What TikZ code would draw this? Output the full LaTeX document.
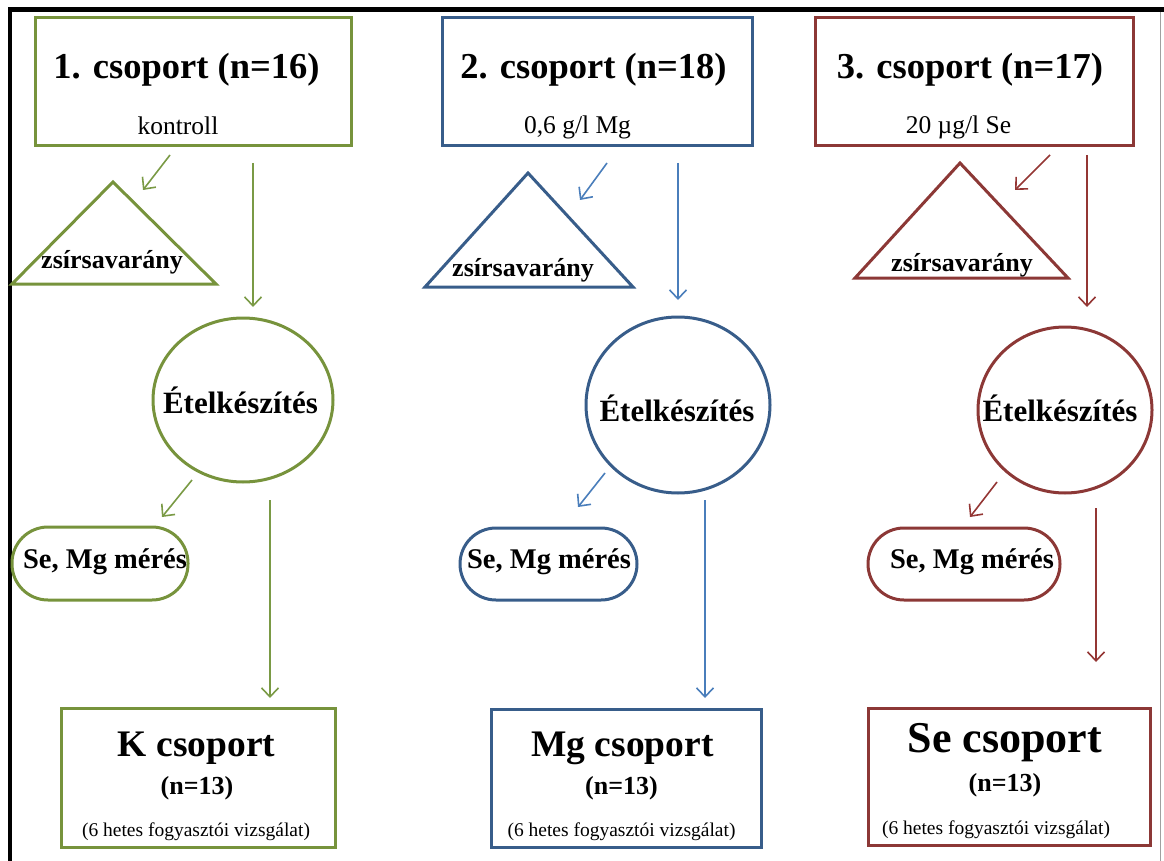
\documentclass[tikz,border=0pt]{standalone}
\usepackage{fontspec}
\setmainfont{Liberation Serif}
\usetikzlibrary{arrows.meta,shapes.geometric}
\definecolor{grnbox}{HTML}{77933C}
\definecolor{grnarr}{HTML}{7A9A45}
\definecolor{blubox}{HTML}{385D8A}
\definecolor{bluarr}{HTML}{4A7EBB}
\definecolor{redbox}{HTML}{8C3836}
\definecolor{redarr}{HTML}{943634}
\definecolor{framegray}{HTML}{A0A0A0}
\tikzset{
  px/.style={x=1pt,y=-1pt},
  boxshape/.style={draw,line width=3pt,rectangle,inner sep=0pt},
  roundshape/.style={draw,line width=3pt,ellipse,inner sep=0pt},
  pillshape/.style={draw,line width=3pt,rectangle,rounded corners=36pt,inner sep=0pt},
  trishape/.style={line width=3pt,line join=miter},
  arr/.style={line width=1.6pt,-{Straight Barb[length=9pt,width=17pt]}},
  lbl/.style={inner sep=0pt,text=black},
  ttl/.style={lbl,font=\fontsize{36.5}{40}\selectfont\bfseries},
  sub/.style={lbl,font=\fontsize{25.5}{28}\selectfont},
  tri/.style={lbl,font=\fontsize{26}{28}\selectfont\bfseries},
  etel/.style={lbl,font=\fontsize{31}{34}\selectfont\bfseries},
  meres/.style={lbl,font=\fontsize{28.5}{31}\selectfont\bfseries},
  big/.style={lbl,font=\fontsize{37.5}{40}\selectfont\bfseries},
  nn/.style={lbl,font=\fontsize{26}{28}\selectfont\bfseries},
  small/.style={lbl,font=\fontsize{19.5}{22}\selectfont},
}
\begin{document}
\begin{tikzpicture}[px]
\useasboundingbox (0,0) rectangle (1164,861);
% frame
\fill[black] (8,7) rectangle (1164,12.5);
\fill[black] (8,7) rectangle (12.3,861);
\draw[framegray,line width=1pt] (1160,12) -- (1160,861);

% ===== column 1 (green) =====
\node[boxshape,grnbox,minimum width=316pt,minimum height=128pt] (top1) at (193,82) {};
\node[ttl] (top1t) at (186.5,70) {1. csoport (n=16)};
\node[sub] (top1s) at (178,126) {kontroll};
\draw[trishape,grnbox] (113,182) -- (216,284) -- (12,284) -- cycle;
\node[tri] (tri1t) at (112,262) {zsírsavarány};
\node[roundshape,grnbox,minimum width=180pt,minimum height=164pt] (circ1) at (243,400) {};
\node[etel] (circ1t) at (240.5,400) {Ételkészítés};
\node[pillshape,grnbox,minimum width=176pt,minimum height=73pt] (pill1) at (100,563.5) {};
\node[meres] (pill1t) at (105,562) {Se, Mg mérés};
\node[boxshape,grnbox,minimum width=274pt,minimum height=139pt] (bot1) at (198,777.5) {};
\node[big] (bot1a) at (196.5,748) {K csoport};
\node[nn] (bot1b) at (197,788) {(n=13)};
\node[small] (bot1c) at (196,832) {(6 hetes fogyasztói vizsgálat)};
\coordinate (a1s) at (170,155); \coordinate (a1e) at (143,190);
\coordinate (b1s) at (253,163); \coordinate (b1e) at (253,307);
\coordinate (c1s) at (192,480); \coordinate (c1e) at (162,517);
\coordinate (d1s) at (270,500); \coordinate (d1e) at (270,698);
\draw[arr,grnarr] (a1s) -- (a1e);
\draw[arr,grnarr] (b1s) -- (b1e);
\draw[arr,grnarr] (c1s) -- (c1e);
\draw[arr,grnarr] (d1s) -- (d1e);

% ===== column 2 (blue) =====
\node[boxshape,blubox,minimum width=310pt,minimum height=128pt] (top2) at (597,82) {};
\node[ttl] (top2t) at (593.5,70) {2. csoport (n=18)};
\node[sub] (top2s) at (577.5,127) {0,6 g/l Mg};
\draw[trishape,blubox] (528,173) -- (633,287) -- (425,287) -- cycle;
\node[tri] (tri2t) at (523,270) {zsírsavarány};
\node[roundshape,blubox,minimum width=184pt,minimum height=176pt] (circ2) at (678,405) {};
\node[etel] (circ2t) at (677,408) {Ételkészítés};
\node[pillshape,blubox,minimum width=177pt,minimum height=72pt] (pill2) at (548.5,564) {};
\node[meres] (pill2t) at (549,562) {Se, Mg mérés};
\node[boxshape,blubox,minimum width=270pt,minimum height=138pt] (bot2) at (626,778) {};
\node[big] (bot2a) at (622.5,748) {Mg csoport};
\node[nn] (bot2b) at (621.5,788) {(n=13)};
\node[small] (bot2c) at (621.5,832) {(6 hetes fogyasztói vizsgálat)};
\coordinate (a2s) at (607,163); \coordinate (a2e) at (580,200);
\coordinate (b2s) at (678,163); \coordinate (b2e) at (678,300);
\coordinate (c2s) at (605,473); \coordinate (c2e) at (578,507);
\coordinate (d2s) at (705,500); \coordinate (d2e) at (705,698);
\draw[arr,bluarr] (a2s) -- (a2e);
\draw[arr,bluarr] (b2s) -- (b2e);
\draw[arr,bluarr] (c2s) -- (c2e);
\draw[arr,bluarr] (d2s) -- (d2e);

% ===== column 3 (red) =====
\node[boxshape,redbox,minimum width=318pt,minimum height=128pt] (top3) at (974,82) {};
\node[ttl] (top3t) at (970,70) {3. csoport (n=17)};
\node[sub] (top3s) at (958.5,127) {20 µg/l Se};
\draw[trishape,redbox] (960,163) -- (1068,278) -- (855,278) -- cycle;
\node[tri] (tri3t) at (962,265) {zsírsavarány};
\node[roundshape,redbox,minimum width=174pt,minimum height=166pt] (circ3) at (1065,410) {};
\node[etel] (circ3t) at (1060,408) {Ételkészítés};
\node[pillshape,redbox,minimum width=192pt,minimum height=72pt] (pill3) at (964,564) {};
\node[meres] (pill3t) at (972,562) {Se, Mg mérés};
\node[boxshape,redbox,minimum width=282pt,minimum height=137pt] (bot3) at (1009,776.5) {};
\node[big,font=\fontsize{44}{46}\selectfont\bfseries] (bot3a) at (1005,743) {Se csoport};
\node[nn] (bot3b) at (1005,785) {(n=13)};
\node[small] (bot3c) at (996,830) {(6 hetes fogyasztói vizsgálat)};
\coordinate (a3s) at (1050,155); \coordinate (a3e) at (1015,190);
\coordinate (b3s) at (1087,155); \coordinate (b3e) at (1087,307);
\coordinate (c3s) at (997,482); \coordinate (c3e) at (970,517);
\coordinate (d3s) at (1096,508); \coordinate (d3e) at (1096,662);
\draw[arr,redarr] (a3s) -- (a3e);
\draw[arr,redarr] (b3s) -- (b3e);
\draw[arr,redarr] (c3s) -- (c3e);
\draw[arr,redarr] (d3s) -- (d3e);
\end{tikzpicture}
\end{document}
